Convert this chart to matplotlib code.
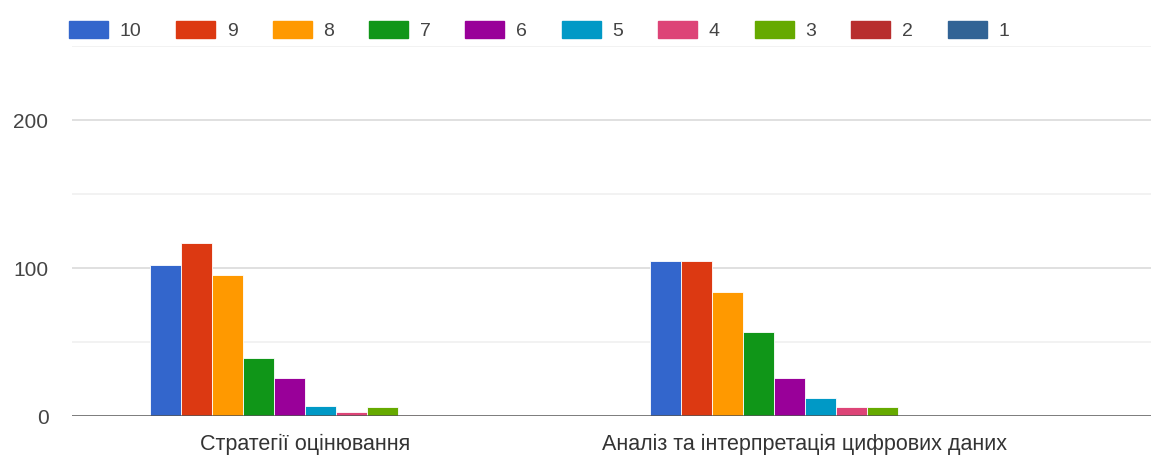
import matplotlib.pyplot as plt
import matplotlib.patches as mpatches
import numpy as np

plt.rcParams["font.family"] = ["Liberation Sans", "DejaVu Sans"]

categories = ["Стратегії оцінювання", "Аналіз та інтерпретація цифрових даних"]
series_labels = ["10", "9", "8", "7", "6", "5", "4", "3", "2", "1"]
values = [
    [102, 105],  # 10
    [117, 105],  # 9
    [95, 84],    # 8
    [39, 57],    # 7
    [26, 26],    # 6
    [7, 12],     # 5
    [3, 6],      # 4
    [6, 6],      # 3
    [1, 0],      # 2
    [0, 0],      # 1
]
colors = ["#3366cc", "#dc3912", "#ff9900", "#109618", "#990099",
          "#0099c6", "#dd4477", "#66aa00", "#b82e2e", "#316395"]

fig = plt.figure(figsize=(11.51, 4.61), dpi=100, facecolor="white")
ax = fig.add_axes([72 / 1151, 45 / 461, 1 - 72 / 1151, 370 / 461])

x = np.arange(len(categories))
n = len(series_labels)
width = 0.062
for i, (lab, vals, col) in enumerate(zip(series_labels, values, colors)):
    offs = (i - (n - 1) / 2) * width
    ax.bar(x + offs, vals, width, color=col, edgecolor="white",
           linewidth=0.6, label=lab, zorder=3)

ax.set_xlim(-0.466, 1.692)
ax.set_ylim(0, 250)

# gridlines
for v in [100, 200]:
    ax.axhline(v, color="#dddddd", lw=1.3, zorder=1)
for v in [50, 150, 250]:
    ax.axhline(v, color="#efefef", lw=1.1, zorder=1)
ax.axhline(0, color="#555555", lw=1.8, zorder=4)

ax.set_yticks([0, 100, 200])
ax.set_yticklabels(["0", "100", "200"])
ax.tick_params(axis="y", length=0, pad=17, labelsize=15, labelcolor="#444444")
ax.set_xticks(x)
ax.set_xticklabels(categories)
ax.tick_params(axis="x", length=0, pad=13, labelsize=15.5, labelcolor="#333333")
for s in ax.spines.values():
    s.set_visible(False)
ax.set_facecolor("white")

handles = [mpatches.Patch(color=c, label=l) for c, l in zip(colors, series_labels)]
fig.legend(handles=handles, loc="upper left", bbox_to_anchor=(69 / 1151, 1 - 21 / 461),
           ncol=n, frameon=False, fontsize=14, handlelength=2.0, handleheight=1.0,
           handletextpad=0.6, columnspacing=1.8, borderpad=0, borderaxespad=0,
           labelcolor="#444444")

plt.savefig("out.png", dpi=100, facecolor="white")
